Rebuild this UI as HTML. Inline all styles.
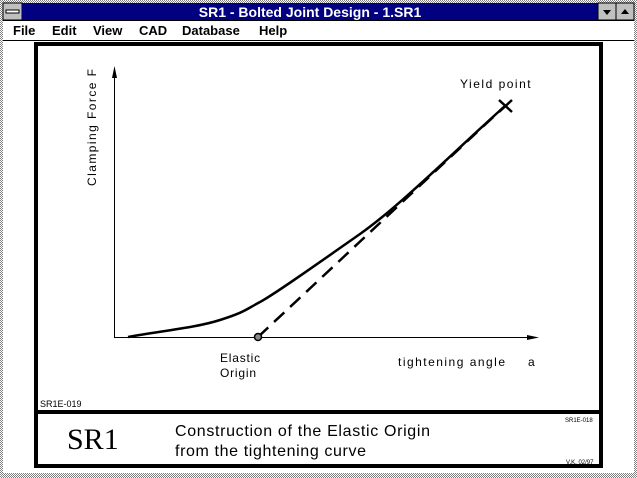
<!DOCTYPE html>
<html><head><style>
body{margin:0;width:637px;height:478px;overflow:hidden;background:#fff;font-family:"Liberation Sans",sans-serif;}
svg{display:block}
</style></head><body>
<svg width="637" height="478" xmlns="http://www.w3.org/2000/svg">
<defs><pattern id="h" width="2" height="2" patternUnits="userSpaceOnUse"><rect width="2" height="2" fill="#fff"/><rect width="1" height="1" fill="#808080"/><rect x="1" y="1" width="1" height="1" fill="#808080"/></pattern></defs>
<rect width="637" height="478" fill="url(#h)"/>
<rect x="3" y="3" width="631" height="470" fill="#fff"/>
<rect x="3" y="3" width="19" height="17" fill="#c0c0c0" stroke="#000"/>
<rect x="6" y="10" width="13" height="3" fill="#fff" stroke="#000" stroke-width="1"/>
<rect x="22" y="3" width="576" height="17" fill="#000080"/>
<text x="310" y="17" fill="#fff" font-size="14" font-weight="bold" text-anchor="middle">SR1  -  Bolted Joint Design  -  1.SR1</text>
<rect x="598" y="3" width="18" height="17" fill="#c0c0c0" stroke="#000"/>
<rect x="616" y="3" width="18" height="17" fill="#c0c0c0" stroke="#000"/>
<path d="M603 10 L611 10 L607 15Z M621 14 L629 14 L625 9Z" fill="#000"/>
<line x1="3" y1="20.5" x2="634" y2="20.5" stroke="#000"/>
<line x1="3" y1="40.5" x2="634" y2="40.5" stroke="#000"/>
<g font-size="13" font-weight="bold" fill="#000">
<text x="13" y="35">File</text><text x="52" y="35">Edit</text><text x="93" y="35">View</text><text x="139" y="35">CAD</text><text x="182" y="35">Database</text><text x="259" y="35">Help</text>
</g>
<rect x="36" y="44" width="565" height="422" fill="#fff" stroke="#000" stroke-width="4"/>
<rect x="36" y="410" width="565" height="4" fill="#000"/>
<line x1="114.5" y1="70" x2="114.5" y2="337" stroke="#000"/>
<path d="M114.5 66 L112 78 L117 78Z" fill="#000"/>
<line x1="114" y1="337.5" x2="535" y2="337.5" stroke="#000"/>
<path d="M539 337.5 L527 335 L527 340Z" fill="#000"/>
<path d="M128 337 C160 331 195 328 220 320 S245 310 260 302 S320 262 360 234 S460 146 505 106" fill="none" stroke="#000" stroke-width="2.5"/>
<line x1="258" y1="337" x2="505" y2="106" stroke="#000" stroke-width="2.5" stroke-dasharray="14,8"/>
<circle cx="258" cy="337" r="3.5" fill="#888" stroke="#000" stroke-width="1.5"/>
<path d="M499 100 L512 112 M512 100 L499 112" stroke="#000" stroke-width="2.5"/>
<g font-size="12" fill="#000">
<text x="460" y="88" letter-spacing="1.5">Yield point</text>
<text x="220" y="362" letter-spacing="0.8">Elastic</text><text x="220" y="377" letter-spacing="0.8">Origin</text>
<text x="398" y="366" textLength="107" lengthAdjust="spacing">tightening angle</text><text x="528" y="366">a</text>
<text transform="translate(96,186) rotate(-90)" textLength="117" lengthAdjust="spacing">Clamping Force F</text>
<text x="40" y="407" font-size="9">SR1E-019</text>
</g>
<text x="67" y="449" font-family="Liberation Serif,serif" font-size="30">SR1</text>
<text x="175" y="436" font-size="16" textLength="255" lengthAdjust="spacing">Construction of the Elastic Origin</text>
<text x="175" y="456" font-size="16" textLength="191" lengthAdjust="spacing">from the tightening curve</text>
<text x="565" y="422" font-size="6">SR1E-018</text>
<text x="566" y="464" font-size="6">V.K. 02/97</text>
</svg>
</body></html>
